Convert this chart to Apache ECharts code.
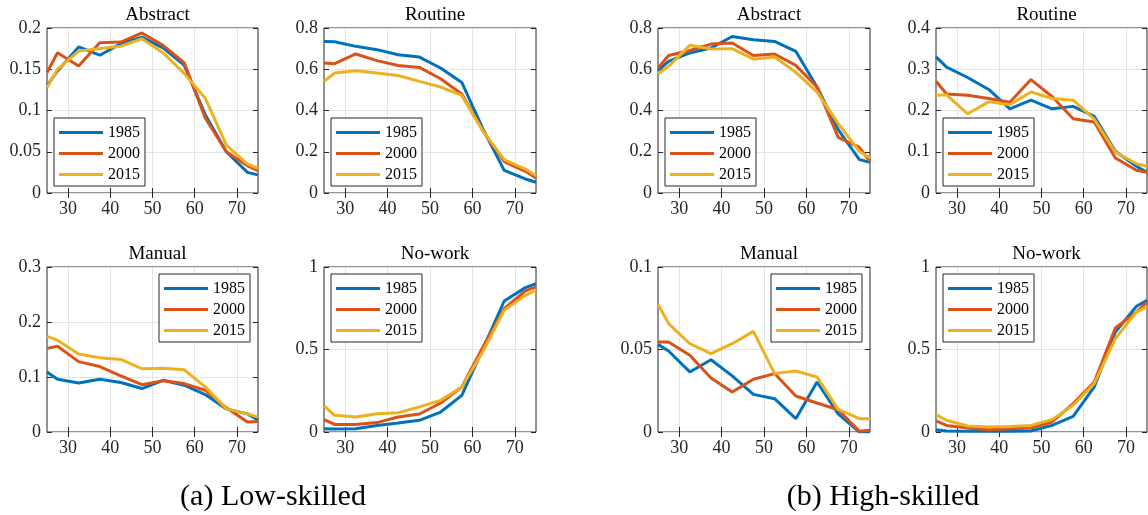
<!DOCTYPE html>
<html>
<head>
<meta charset="utf-8">
<script src="https://cdn.jsdelivr.net/npm/echarts@6/dist/echarts.min.js"></script>
<style>
  html, body { margin: 0; padding: 0; background: #fff; }
  #main { width: 1148px; height: 515px; }
</style>
</head>
<body>
<div id="main"></div>
<script>
// age points (x axis) and the three years in every panel
var ages = [25, 27.5, 32.5, 37.5, 42.5, 47.5, 52.5, 57.5, 62.5, 67.5, 72.5, 75];
var years = ['1985', '2000', '2015'];
var x_ticks = [30, 40, 50, 60, 70];

// low-skilled
var low_abstract_1985 = [0.130, 0.148, 0.177, 0.167, 0.181, 0.189, 0.176, 0.155, 0.095, 0.050, 0.025, 0.022];
var low_abstract_2000 = [0.146, 0.170, 0.154, 0.182, 0.183, 0.194, 0.179, 0.158, 0.091, 0.050, 0.033, 0.027];
var low_abstract_2015 = [0.128, 0.150, 0.172, 0.175, 0.178, 0.187, 0.170, 0.145, 0.115, 0.058, 0.035, 0.030];

var low_routine_1985 = [0.735, 0.733, 0.711, 0.695, 0.670, 0.659, 0.606, 0.536, 0.310, 0.110, 0.068, 0.052];
var low_routine_2000 = [0.630, 0.627, 0.674, 0.642, 0.618, 0.609, 0.554, 0.480, 0.300, 0.152, 0.105, 0.073];
var low_routine_2015 = [0.541, 0.582, 0.593, 0.582, 0.570, 0.541, 0.514, 0.473, 0.300, 0.162, 0.116, 0.084];

var low_manual_1985 = [0.109, 0.096, 0.089, 0.096, 0.090, 0.079, 0.094, 0.085, 0.068, 0.042, 0.033, 0.022];
var low_manual_2000 = [0.152, 0.156, 0.128, 0.119, 0.102, 0.086, 0.093, 0.088, 0.076, 0.044, 0.018, 0.019];
var low_manual_2015 = [0.174, 0.167, 0.142, 0.135, 0.132, 0.115, 0.116, 0.113, 0.082, 0.042, 0.033, 0.027];

var low_nowork_1985 = [0.020, 0.018, 0.020, 0.040, 0.055, 0.071, 0.121, 0.222, 0.505, 0.794, 0.875, 0.899];
var low_nowork_2000 = [0.075, 0.046, 0.046, 0.057, 0.091, 0.109, 0.176, 0.273, 0.515, 0.747, 0.855, 0.879];
var low_nowork_2015 = [0.158, 0.101, 0.091, 0.111, 0.117, 0.152, 0.192, 0.273, 0.489, 0.737, 0.828, 0.859];

// high-skilled
var high_abstract_1985 = [0.594, 0.638, 0.679, 0.703, 0.759, 0.743, 0.735, 0.687, 0.514, 0.307, 0.162, 0.149];
var high_abstract_2000 = [0.606, 0.667, 0.691, 0.722, 0.727, 0.667, 0.674, 0.619, 0.514, 0.270, 0.221, 0.153];
var high_abstract_2015 = [0.578, 0.614, 0.716, 0.698, 0.700, 0.649, 0.659, 0.585, 0.490, 0.336, 0.202, 0.170];

var high_routine_1985 = [0.330, 0.305, 0.280, 0.251, 0.204, 0.225, 0.204, 0.210, 0.186, 0.101, 0.065, 0.050];
var high_routine_2000 = [0.271, 0.240, 0.237, 0.229, 0.220, 0.275, 0.234, 0.180, 0.172, 0.085, 0.055, 0.050];
var high_routine_2015 = [0.237, 0.238, 0.192, 0.221, 0.214, 0.245, 0.229, 0.225, 0.179, 0.099, 0.071, 0.065];

var high_manual_1985 = [0.0531, 0.0491, 0.0364, 0.0438, 0.0340, 0.0228, 0.0202, 0.0081, 0.0303, 0.0110, 0.0000, 0.0000];
var high_manual_2000 = [0.0545, 0.0545, 0.0465, 0.0327, 0.0242, 0.0320, 0.0354, 0.0218, 0.0176, 0.0135, 0.0004, 0.0010];
var high_manual_2015 = [0.0774, 0.0657, 0.0535, 0.0475, 0.0535, 0.0610, 0.0354, 0.0370, 0.0333, 0.0137, 0.0081, 0.0081];

var high_nowork_1985 = [0.014, 0.006, 0.004, 0.004, 0.004, 0.006, 0.040, 0.095, 0.273, 0.606, 0.762, 0.798];
var high_nowork_2000 = [0.067, 0.040, 0.024, 0.014, 0.020, 0.024, 0.061, 0.172, 0.303, 0.630, 0.727, 0.788];
var high_nowork_2015 = [0.105, 0.071, 0.036, 0.030, 0.034, 0.040, 0.075, 0.162, 0.293, 0.566, 0.727, 0.758];

var colors = ['#0072BD', '#D95319', '#EDB120'];
var font = '"Liberation Serif", "Times New Roman", serif';
var dark = '#262626';
var gridc = '#e3e3e3';

// panel layout: grid box, title, y range, which corner the legend sits in
var panels = [
	{left: 47,  top: 28,  width: 211, title: 'Abstract', ymax: 0.2, step: 0.05, legend: 'bl', data: [low_abstract_1985, low_abstract_2000, low_abstract_2015]},
	{left: 324, top: 28,  width: 212, title: 'Routine',  ymax: 0.8, step: 0.2,  legend: 'bl', data: [low_routine_1985, low_routine_2000, low_routine_2015]},
	{left: 47,  top: 267, width: 211, title: 'Manual',   ymax: 0.3, step: 0.1,  legend: 'tr', data: [low_manual_1985, low_manual_2000, low_manual_2015]},
	{left: 324, top: 267, width: 212, title: 'No-work',  ymax: 1,   step: 0.5,  legend: 'tl', data: [low_nowork_1985, low_nowork_2000, low_nowork_2015]},
	{left: 658, top: 28,  width: 212, title: 'Abstract', ymax: 0.8, step: 0.2,  legend: 'bl', data: [high_abstract_1985, high_abstract_2000, high_abstract_2015]},
	{left: 936, top: 28,  width: 211, title: 'Routine',  ymax: 0.4, step: 0.1,  legend: 'bl', data: [high_routine_1985, high_routine_2000, high_routine_2015]},
	{left: 658, top: 267, width: 212, title: 'Manual',   ymax: 0.1, step: 0.05, legend: 'tr', data: [high_manual_1985, high_manual_2000, high_manual_2015]},
	{left: 936, top: 267, width: 211, title: 'No-work',  ymax: 1,   step: 0.5,  legend: 'tl', data: [high_nowork_1985, high_nowork_2000, high_nowork_2015]}
];
var plot_h = 165;
var legend_w = 91, legend_h = 68;

function pairs(vals){
	var out = [];
	for (var i = 0; i < ages.length; i++) {
		out.push([ages[i], vals[i]]);
	}
	return out;
}

var grids = [], xAxes = [], yAxes = [], series = [], titles = [], legends = [];

for (var p = 0; p < panels.length; p++) {
	var pn = panels[p];
	grids.push({
		left: pn.left, top: pn.top, width: pn.width, height: plot_h,
		show: true, borderColor: dark, borderWidth: 1, backgroundColor: '#fff'
	});
	// bottom axis with labels, top axis only for the inward ticks (box style)
	xAxes.push({
		gridIndex: p, type: 'value', min: 25, max: 75, position: 'bottom',
		axisLine: {show: false},
		axisTick: {inside: true, length: 5, lineStyle: {color: dark}, customValues: x_ticks},
		axisLabel: {color: dark, fontFamily: font, fontSize: 18, margin: 7, customValues: x_ticks},
		splitLine: {show: true, lineStyle: {color: gridc, width: 1}}
	});
	xAxes.push({
		gridIndex: p, type: 'value', min: 25, max: 75, position: 'top',
		axisLine: {show: false},
		axisTick: {inside: true, length: 5, lineStyle: {color: dark}, customValues: x_ticks},
		axisLabel: {show: false, customValues: x_ticks},
		splitLine: {show: false}
	});
	yAxes.push({
		gridIndex: p, type: 'value', min: 0, max: pn.ymax, interval: pn.step, position: 'left',
		axisLine: {show: false},
		axisTick: {show: true, inside: true, length: 5, lineStyle: {color: dark}},
		axisLabel: {color: dark, fontFamily: font, fontSize: 18, margin: 6},
		splitLine: {show: true, lineStyle: {color: gridc, width: 1}}
	});
	yAxes.push({
		gridIndex: p, type: 'value', min: 0, max: pn.ymax, interval: pn.step, position: 'right',
		axisLine: {show: false},
		axisTick: {show: true, inside: true, length: 5, lineStyle: {color: dark}},
		axisLabel: {show: false},
		splitLine: {show: false}
	});
	titles.push({
		text: pn.title, left: pn.left + pn.width / 2, top: pn.top - 27, textAlign: 'center',
		textStyle: {fontFamily: font, fontSize: 19, fontWeight: 'normal', color: '#000'}
	});
	for (var s = 0; s < 3; s++) {
		series.push({
			name: years[s], type: 'line', xAxisIndex: 2 * p, yAxisIndex: 2 * p,
			data: pairs(pn.data[s]), showSymbol: false, symbol: 'none',
			lineStyle: {width: 3, color: colors[s]}, itemStyle: {color: colors[s]},
			z: 3 + s
		});
	}
	// legend box position inside the plot
	var lx, ly;
	if (pn.legend == 'bl') { lx = pn.left + 7; ly = pn.top + plot_h - 7 - legend_h; }
	else if (pn.legend == 'tr') { lx = pn.left + pn.width - 8 - legend_w; ly = pn.top + 7; }
	else { lx = pn.left + 7; ly = pn.top + 7; }
	legends.push({
		data: years, orient: 'vertical', left: lx, top: ly,
		icon: 'rect', itemWidth: 44, itemHeight: 3, itemGap: 2,
		padding: [5, 5, 2, 5],
		backgroundColor: '#fff', borderColor: dark, borderWidth: 1,
		selectedMode: false,
		textStyle: {fontFamily: font, fontSize: 16, color: '#000', lineHeight: 19}
	});
}

// sub-figure captions
titles.push({
	text: '(a) Low-skilled', left: 268, top: 477, textAlign: 'center',
	textStyle: {fontFamily: font, fontSize: 30, fontWeight: 'normal', color: '#000'}
});
titles.push({
	text: '(b) High-skilled', left: 878, top: 477, textAlign: 'center',
	textStyle: {fontFamily: font, fontSize: 30, fontWeight: 'normal', color: '#000'}
});

var myChart = echarts.init(document.getElementById('main'));
var option = {
	animation: false,
	backgroundColor: '#fff',
	title: titles,
	legend: legends,
	grid: grids,
	xAxis: xAxes,
	yAxis: yAxes,
	series: series
};
myChart.setOption(option);
</script>
</body>
</html>
